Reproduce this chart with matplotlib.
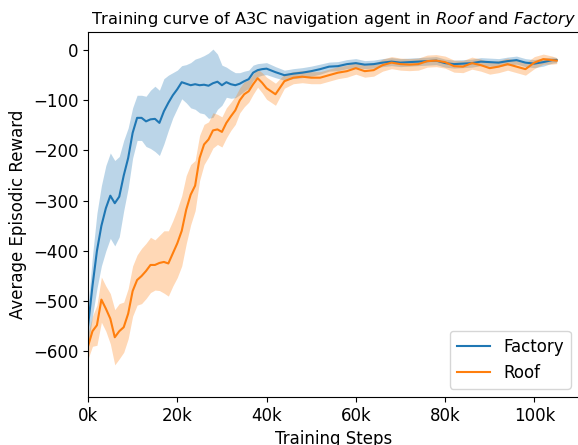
import matplotlib
matplotlib.use("Agg")
import matplotlib.pyplot as plt
import numpy as np
from matplotlib.ticker import FuncFormatter

# Training steps (in thousands)
steps_k = list(range(0, 41)) + list(range(42, 105, 2)) + [105]

factory_mean = [
    -550, -470, -400, -350, -315, -290, -305, -292, -250, -215,
    -165, -135, -135, -142, -138, -137, -145, -122, -105, -90,
    -78, -64, -67, -70, -68, -70, -69, -71, -66, -63,
    -70, -64, -68, -70, -67, -62, -58, -45, -40, -38,
    -37,
    -44, -50, -47, -45, -42, -38, -33, -32, -28, -26,
    -29, -28, -25, -23, -25, -24, -23, -22, -21, -26,
    -28, -27, -26, -23, -24, -25, -22, -20, -25, -27,
    -24, -20,
    -20,
]
factory_spread = [
    40, 60, 75, 80, 85, 85, 85, 80, 70, 60,
    50, 45, 45, 50, 58, 65, 65, 65, 55, 45,
    38, 33, 38, 45, 50, 55, 58, 65, 68, 55,
    40, 30, 28, 25, 22, 20, 18, 15, 13, 12,
    12,
    11, 10, 10, 10, 10, 10, 9, 9, 9, 9,
    8, 8, 8, 8, 8, 8, 8, 8, 8, 8,
    8, 8, 8, 8, 8, 8, 8, 8, 8, 8,
    8, 6,
    5,
]

roof_mean = [
    -590, -560, -548, -497, -515, -535, -572, -560, -552, -525,
    -480, -458, -450, -440, -428, -428, -424, -422, -425, -405,
    -385, -360, -318, -288, -270, -215, -188, -178, -160, -158,
    -163, -145, -132, -120, -100, -88, -82, -68, -56, -65,
    -76,
    -88, -62, -55, -53, -55, -55, -50, -45, -42, -36,
    -42, -40, -30, -25, -28, -29, -28, -22, -21, -24,
    -32, -33, -26, -30, -36, -33, -28, -33, -38, -25,
    -18, -20,
    -21,
]
roof_spread = [
    25, 30, 40, 45, 45, 50, 55, 55, 50, 50,
    50, 50, 55, 55, 55, 50, 55, 62, 65, 65,
    68, 70, 68, 60, 50, 45, 40, 35, 35, 30,
    30, 30, 28, 28, 25, 25, 22, 20, 18, 20,
    22,
    22, 14, 12, 12, 12, 12, 12, 12, 12, 12,
    12, 12, 12, 12, 12, 12, 12, 12, 12, 12,
    12, 12, 12, 12, 12, 12, 12, 12, 12, 12,
    10, 8,
    6,
]

x = np.array(steps_k) * 1000
fm, fs = np.array(factory_mean), np.array(factory_spread)
rm, rs = np.array(roof_mean), np.array(roof_spread)

W, H = 578, 445
fig = plt.figure(figsize=(W / 100, H / 100), dpi=100)
left_px, right_px, top_px, bottom_px = 88, 579, 32, 397
ax = fig.add_axes([left_px / W, 1 - bottom_px / H,
                   (right_px - left_px) / W, (bottom_px - top_px) / H])

ax.plot(x, fm, color="#1f77b4", lw=1.5, label="Factory")
ax.fill_between(x, fm - fs, fm + fs, color="#1f77b4", alpha=0.3, lw=0)
ax.plot(x, rm, color="#ff7f0e", lw=1.5, label="Roof")
ax.fill_between(x, rm - rs, rm + rs, color="#ff7f0e", alpha=0.3, lw=0)

ax.set_xlim(0, 110000)
ax.set_ylim(-691, 36)
ax.set_xticks([0, 20000, 40000, 60000, 80000, 100000])
ax.set_yticks([0, -100, -200, -300, -400, -500, -600])
ax.xaxis.set_major_formatter(FuncFormatter(lambda v, p: f"{int(v/1000)}k"))
ax.tick_params(labelsize=12)
ax.set_xlabel("Training Steps", fontsize=12)
ax.set_ylabel("Average Episodic Reward", fontsize=12)
ax.set_title(r"Training curve of A3C navigation agent in $\it{Roof}$ and $\it{Factory}$",
             fontsize=11.7)
ax.legend(loc="lower right", fontsize=12)

fig.savefig("out.png", dpi=100)
